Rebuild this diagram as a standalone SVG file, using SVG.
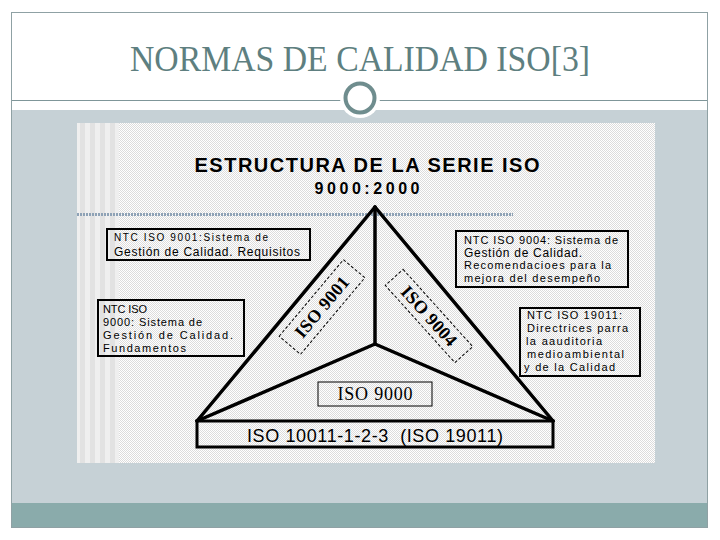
<svg xmlns="http://www.w3.org/2000/svg" width="720" height="540" viewBox="0 0 720 540">
<defs>
<pattern id="dots" width="2" height="2" patternUnits="userSpaceOnUse">
<rect width="2" height="2" fill="#ffffff"/>
<rect width="1" height="1" fill="#dcdcdc"/>
<rect x="1" y="1" width="1" height="1" fill="#dcdcdc"/>
</pattern>
<pattern id="stripes" width="10" height="10" patternUnits="userSpaceOnUse">
<rect width="10" height="10" fill="#efefef"/>
<rect width="5" height="10" fill="#e2e2e2"/>
</pattern>
</defs>
<style>
.box{fill:none;stroke:#000;stroke-width:2}
.t{font-family:"Liberation Sans",Arial,sans-serif;fill:#000}
.s{font-size:11px}
.edge{stroke:#000;stroke-width:3.5;stroke-linecap:round;fill:none}
.rot{font-family:"Liberation Serif","Times New Roman",serif;font-weight:bold;font-size:18px;fill:#000}
.dash{fill:none;stroke:#000;stroke-width:1;stroke-dasharray:3 2}
</style>
<rect width="720" height="540" fill="#ffffff"/>
<g id="slide">
<rect x="12" y="110" width="695" height="393" fill="#c6d1d6"/>
<rect x="12" y="503" width="695" height="24" fill="#8aabab"/>
<rect x="11.5" y="12.5" width="696" height="515" fill="none" stroke="#8fa1a4" stroke-width="1"/>
<line x1="12" y1="100.5" x2="707" y2="100.5" stroke="#7f9699" stroke-width="1"/>
<circle cx="360" cy="98" r="20" fill="#ffffff"/>
<circle cx="360" cy="98" r="14.5" fill="#ffffff" stroke="#6f8d8e" stroke-width="4"/>
<text x="360" y="71" text-anchor="middle" font-family="'Liberation Serif','Times New Roman',serif" font-size="36" fill="#5e7f80" textLength="460" lengthAdjust="spacingAndGlyphs">NORMAS DE CALIDAD ISO[3]</text>
</g>
<g id="picture">
<rect x="77" y="123" width="578" height="340" fill="url(#dots)"/>
<rect x="77" y="123" width="42" height="340" fill="url(#stripes)"/>
<text class="t" x="367" y="172" text-anchor="middle" font-weight="bold" font-size="20" textLength="345">ESTRUCTURA DE LA SERIE ISO</text>
<text class="t" x="367" y="194" text-anchor="middle" font-weight="bold" font-size="16" textLength="105">9000:2000</text>
<line x1="77" y1="214.5" x2="513" y2="214.5" stroke="#8ea2b6" stroke-width="3" stroke-dasharray="2 1"/>
</g>
<g id="connectors">
<line class="edge" x1="375" y1="207" x2="197" y2="421"/>
<line class="edge" x1="375" y1="207" x2="553" y2="421"/>
<line class="edge" x1="375" y1="207" x2="375" y2="344"/>
<line class="edge" x1="375" y1="344" x2="197" y2="421"/>
<line class="edge" x1="375" y1="344" x2="553" y2="421"/>
</g>
<g id="iso9001-label">
<g transform="translate(322,307) rotate(-50)">
<rect class="dash" x="-50" y="-14" width="100" height="28"/>
<text class="rot" x="0" y="6" text-anchor="middle" textLength="74">ISO 9001</text>
</g>
</g>
<g id="iso9004-label">
<g transform="translate(429,316) rotate(48)">
<rect class="dash" x="-52" y="-12" width="104" height="24"/>
<text class="rot" x="0" y="6" text-anchor="middle" textLength="74">ISO 9004</text>
</g>
</g>
<g id="ntc9001">
<rect class="box" x="107" y="229" width="203" height="31"/>
<text class="t" x="114" y="241" font-size="10" textLength="154">NTC ISO 9001:Sistema de</text>
<text class="t" x="114" y="256" font-size="12" textLength="186">Gestión de Calidad. Requisitos</text>
</g>
<g id="ntc9000">
<rect class="box" x="98" y="300" width="146" height="56"/>
<text class="t s" x="103" y="313" textLength="44">NTC ISO</text>
<text class="t s" x="103" y="326" textLength="99">9000: Sistema de</text>
<text class="t s" x="103" y="339" textLength="130">Gestión de Calidad.</text>
<text class="t s" x="103" y="352" textLength="83">Fundamentos</text>
</g>
<g id="ntc9004">
<rect class="box" x="456" y="231" width="172" height="56"/>
<text class="t s" x="464" y="244" textLength="154">NTC ISO 9004: Sistema de</text>
<text class="t" x="464" y="257" font-size="12" textLength="118">Gestión de Calidad.</text>
<text class="t s" x="464" y="269" textLength="147">Recomendacioes para la</text>
<text class="t s" x="464" y="282" textLength="136">mejora del desempeño</text>
</g>
<g id="ntc19011">
<rect class="box" x="520" y="308" width="120" height="68"/>
<text class="t s" x="527" y="319" textLength="95">NTC ISO 19011:</text>
<text class="t s" x="527" y="332" textLength="101">Directrices parra</text>
<text class="t s" x="526" y="345" textLength="76">la aauditoria</text>
<text class="t s" x="527" y="358" textLength="97">medioambiental</text>
<text class="t s" x="524" y="371" textLength="91">y de la Calidad</text>
</g>
<g id="iso9000">
<rect x="318" y="382" width="114" height="24" fill="none" stroke="#000" stroke-width="1"/>
<text x="375" y="400" text-anchor="middle" font-family="'Liberation Serif','Times New Roman',serif" font-size="18" textLength="75">ISO 9000</text>
</g>
<g id="iso10011">
<rect x="197" y="421" width="356" height="26" fill="none" stroke="#000" stroke-width="3"/>
<text class="t" x="375" y="442" text-anchor="middle" font-size="18" textLength="256" xml:space="preserve">ISO 10011-1-2-3  (ISO 19011)</text>
</g>
</svg>
